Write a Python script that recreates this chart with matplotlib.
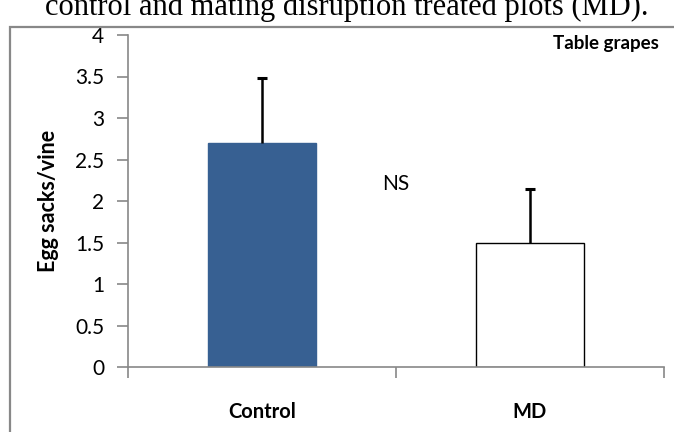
import matplotlib
matplotlib.use("Agg")
import matplotlib.pyplot as plt
from matplotlib.patches import Rectangle

categories = ["Control", "MD"]
means = [2.7, 1.5]
errors = [0.78, 0.65]
bar_colors = ["#376092", "white"]
caption = "control and mating disruption treated plots (MD)."

plt.rcParams['font.family'] = ['Lato', 'DejaVu Sans']

fig = plt.figure(figsize=(6.74, 4.32), dpi=100)
ax = fig.add_axes([128 / 674, 1 - 367 / 432, 536 / 674, 332 / 432])

x = list(range(len(categories)))
ax.bar(x, means, width=0.4, color=bar_colors, edgecolor=["#376092", "black"], linewidth=1.0, zorder=2)

# upper-only error bars
tops = [m + e for m, e in zip(means, errors)]
ax.vlines(x, means, tops, color="black", linewidth=1.8, zorder=3)
ax.plot(x, tops, linestyle="none", marker="_", markersize=7.5, markeredgewidth=2.2,
        color="black", zorder=3)

ax.set_xlim(-0.5, 1.5)
ax.set_ylim(0, 4)
ax.set_yticks([0, 0.5, 1, 1.5, 2, 2.5, 3, 3.5, 4])
ax.set_yticklabels(["0", "0.5", "1", "1.5", "2", "2.5", "3", "3.5", "4"], fontsize=15)
ax.set_xticks(x)
ax.set_xticklabels(categories, fontsize=14.5, fontweight="bold")
ax.set_xticks([-0.5, 0.5, 1.5], minor=True)
ax.tick_params(axis="x", which="major", length=0, pad=25)
ax.tick_params(axis="x", which="minor", length=8, color="#888888", width=1.2)
ax.tick_params(axis="y", length=8, color="#888888", width=1.2, pad=9)

for side in ["top", "right"]:
    ax.spines[side].set_visible(False)
for side in ["left", "bottom"]:
    ax.spines[side].set_color("#888888")
    ax.spines[side].set_linewidth(1.2)

ax.set_ylabel("Egg sacks/vine", fontsize=15.5, fontweight="bold", labelpad=12)
ax.text(0.5, 2.2, "NS", ha="center", va="center", fontsize=15)
ax.text(1.48, 3.9, "Table grapes", ha="right", va="center", fontsize=13.5, fontweight="bold")

# chart border, running off the right and bottom edges
fig.patches.append(Rectangle((10 / 674, -0.1), 1.0, 1 - 27 / 432 + 0.1, transform=fig.transFigure,
                             fill=False, edgecolor="#888888", linewidth=1.6))
fig.text(45 / 674, 1 - 15 / 432, caption, ha="left", va="baseline", fontsize=22,
         family="Liberation Serif")

fig.savefig("out.png", dpi=100)
